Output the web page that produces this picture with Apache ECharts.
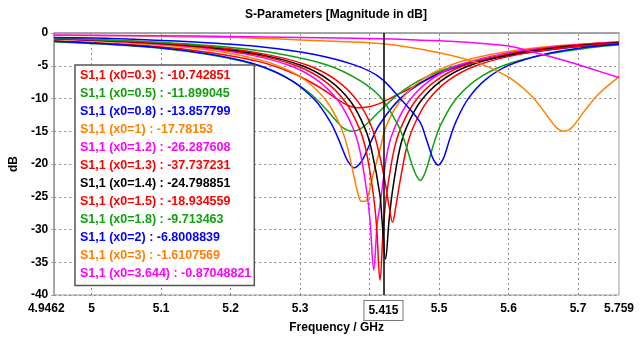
<!DOCTYPE html>
<html><head><meta charset="utf-8">
<script src="https://cdn.jsdelivr.net/npm/echarts@6/dist/echarts.min.js"></script>
<style>html,body{margin:0;padding:0;background:#fff}#c{width:641px;height:342px}</style>
</head><body><div id="c"></div>
<script>
const titleText = 'S-Parameters [Magnitude in dB]';
const xName = 'Frequency / GHz';
const yName = 'dB';
const x0Values = ['0.3','0.5','0.8','1','1.2','1.3','1.4','1.5','1.8','2','3','3.644'];
const markerValues = ['-10.742851','-11.899045','-13.857799','-17.78153','-26.287608','-37.737231','-24.798851','-18.934559','-9.713463','-6.8008839','-1.6107569','-0.87048821'];
const colors = ['#ff0000','#10a010','#0000ff','#ff8000','#ff00ff','#ff0000','#000000','#ff0000','#10a010','#0000ff','#ff8000','#ff00ff'];
const markerFreq = 5.415;
const xLabelValues = [4.9462,5,5.1,5.2,5.3,5.5,5.6,5.7,5.759];
const xGridValues = [5,5.1,5.2,5.3,5.4,5.5,5.6,5.7];

const s03 = [[4.9462,-1.2],[5.085,-2.0],[5.169,-2.96],[5.241,-4.37],[5.289,-6.11],[5.325,-8.09],[5.349,-9.78],[5.361,-10.6],[5.373,-11.21],[5.385,-11.4],[5.401,-11.21],[5.415,-10.74],[5.433,-9.78],[5.465,-8.09],[5.5,-6.11],[5.55,-4.37],[5.62,-2.96],[5.685,-2.0],[5.759,-1.55]];
const s05 = [[4.9462,-1.33],[5.075,-2.11],[5.159,-3.15],[5.231,-4.71],[5.279,-6.74],[5.315,-9.28],[5.339,-11.81],[5.351,-13.28],[5.363,-14.56],[5.375,-15.0],[5.388,-14.56],[5.402,-13.28],[5.415,-11.9],[5.442,-9.28],[5.481,-6.74],[5.535,-4.71],[5.615,-3.15],[5.695,-2.11],[5.759,-1.6]];
const s08 = [[4.9462,-1.27],[5.091,-2.17],[5.171,-3.26],[5.24,-4.92],[5.286,-7.14],[5.3205,-10.13],[5.3435,-13.57],[5.355,-16.12],[5.3665,-19.13],[5.3723,-20.13],[5.378,-20.6],[5.3845,-20.13],[5.391,-19.13],[5.404,-16.12],[5.415,-13.86],[5.443,-10.13],[5.482,-7.14],[5.534,-4.92],[5.612,-3.26],[5.69,-2.17],[5.759,-1.6]];
const s1 = [[4.9462,-0.95],[5.038,-1.4],[5.138,-2.2],[5.208,-3.29],[5.268,-4.98],[5.308,-7.25],[5.338,-10.39],[5.358,-14.2],[5.368,-17.35],[5.378,-22.1],[5.383,-24.4],[5.388,-25.7],[5.394,-25.7],[5.399,-24.4],[5.404,-22.1],[5.415,-17.78],[5.424,-14.2],[5.444,-10.39],[5.474,-7.25],[5.514,-4.98],[5.574,-3.29],[5.644,-2.2],[5.759,-1.33]];
const s12 = [[4.9462,-0.87],[5.056,-1.4],[5.156,-2.2],[5.226,-3.3],[5.286,-5.0],[5.326,-7.3],[5.356,-10.49],[5.376,-14.47],[5.386,-17.93],[5.396,-24.2],[5.401,-29.1],[5.406,-36.2],[5.411,-29.1],[5.415,-26.29],[5.426,-17.93],[5.436,-14.47],[5.456,-10.49],[5.486,-7.3],[5.526,-5.0],[5.586,-3.3],[5.656,-2.2],[5.759,-1.39]];
const s13 = [[4.9462,-0.85],[5.065,-1.4],[5.165,-2.2],[5.235,-3.3],[5.295,-5.0],[5.335,-7.3],[5.365,-10.49],[5.385,-14.48],[5.395,-17.96],[5.405,-24.31],[5.41,-29.36],[5.415,-37.74],[5.42,-29.36],[5.425,-24.31],[5.435,-17.96],[5.445,-14.48],[5.465,-10.49],[5.495,-7.3],[5.535,-5.0],[5.595,-3.3],[5.665,-2.2],[5.759,-1.43]];
const s14 = [[4.9462,-0.83],[5.073,-1.4],[5.173,-2.2],[5.243,-3.3],[5.303,-5.0],[5.343,-7.3],[5.373,-10.49],[5.393,-14.45],[5.403,-17.9],[5.415,-24.8],[5.418,-28.7],[5.423,-34.5],[5.428,-28.7],[5.433,-24.1],[5.443,-17.9],[5.453,-14.45],[5.473,-10.49],[5.503,-7.3],[5.543,-5.0],[5.603,-3.3],[5.673,-2.2],[5.759,-1.48]];
const s15 = [[4.9462,-0.8],[5.083,-1.4],[5.183,-2.2],[5.253,-3.3],[5.313,-5.0],[5.353,-7.27],[5.383,-10.44],[5.403,-14.35],[5.415,-18.93],[5.423,-23.15],[5.428,-26.4],[5.433,-28.9],[5.438,-26.4],[5.443,-23.15],[5.453,-17.67],[5.463,-14.35],[5.483,-10.44],[5.513,-7.27],[5.553,-4.99],[5.613,-3.3],[5.683,-2.2],[5.759,-1.55]];
const s18 = [[4.9462,-0.82],[5.088,-1.39],[5.198,-2.19],[5.275,-3.28],[5.341,-4.95],[5.385,-7.19],[5.415,-9.71],[5.44,-13.88],[5.451,-16.7],[5.462,-20.39],[5.4675,-21.8],[5.473,-22.5],[5.478,-21.8],[5.483,-20.39],[5.493,-16.7],[5.503,-13.88],[5.523,-10.26],[5.553,-7.19],[5.593,-4.95],[5.653,-3.28],[5.723,-2.19],[5.759,-1.8]];
const s2 = [[4.9462,-0.7],[5.029,-0.84],[5.149,-1.39],[5.249,-2.17],[5.319,-3.25],[5.379,-4.91],[5.415,-6.8],[5.445,-10.1],[5.472,-13.5],[5.481,-15.98],[5.49,-18.84],[5.4945,-19.77],[5.499,-20.2],[5.503,-19.77],[5.5075,-18.84],[5.516,-15.98],[5.5245,-13.5],[5.5415,-10.1],[5.567,-7.12],[5.601,-4.91],[5.652,-3.25],[5.7115,-2.17],[5.759,-1.7]];
const s3 = [[4.9462,-0.35],[5.1,-0.5],[5.21,-0.7],[5.33,-1.2],[5.415,-1.61],[5.5,-3.0],[5.56,-4.71],[5.6,-6.74],[5.63,-9.28],[5.65,-11.81],[5.66,-13.28],[5.67,-14.56],[5.675,-14.87],[5.68,-15.0],[5.685,-14.87],[5.69,-14.56],[5.7,-13.28],[5.71,-11.81],[5.73,-9.28],[5.759,-6.7]];
const s3644 = [[4.9462,-0.3],[5.1,-0.42],[5.2,-0.52],[5.3,-0.68],[5.415,-0.87],[5.5,-1.2],[5.55,-1.5],[5.6,-2.0],[5.63,-2.75],[5.66,-3.6],[5.69,-4.5],[5.72,-5.5],[5.759,-6.8]];

const seriesData = [s03,s05,s08,s1,s12,s13,s14,s15,s18,s2,s3,s3644];
const names = x0Values.map((x,i)=>'S1,1 (x0=' + x + ') : ' + markerValues[i]);
const FONT = 'Liberation Sans';

const series = seriesData.map((d,i)=>({
  name: names[i], type:'line', data:d, showSymbol:false, smooth:0.35,
  lineStyle:{color:colors[i], width:1.5}, itemStyle:{color:colors[i]}, animation:false, z:2
}));
series[series.length-1].markLine = {
  silent:true, symbol:'none', animation:false, z:5,
  lineStyle:{color:'#000', width:1.5, type:'solid'},
  label:{show:true, position:'start', formatter:String(markerFreq), fontFamily:FONT, fontWeight:'bold', fontSize:12,
    color:'#000', backgroundColor:'#fff', borderColor:'#777', borderWidth:1, padding:[4,4,3,4], distance:6},
  data:[{xAxis:markerFreq}]
};

const chart = echarts.init(document.getElementById('c'), null, {renderer:'canvas'});
chart.setOption({
  animation:false,
  backgroundColor:'#fff',
  title:{text:titleText, left:331, top:4, textAlign:'center',
    textStyle:{fontFamily:FONT, fontWeight:'bold', fontSize:12, color:'#000'}},
  grid:{left:50, right:22, top:33, bottom:47, show:true, borderColor:'#999', borderWidth:1, backgroundColor:'transparent'},
  legend:{orient:'vertical', left:75, top:65, icon:'none', itemWidth:0, itemHeight:14, itemGap:4.5,
    padding:[4,3,5,0], backgroundColor:'#fff', borderColor:'#555', borderWidth:1.5, selectedMode:false, z:10,
    textStyle:{fontFamily:FONT, fontWeight:'bold', fontSize:12.5, width:170},
    data:names.map((n,i)=>({name:n, textStyle:{color:colors[i]}}))},
  xAxis:{type:'value', min:4.9462, max:5.759, name:xName, nameLocation:'middle', nameGap:27,
    nameTextStyle:{fontFamily:FONT, fontWeight:'bold', fontSize:12, color:'#000'},
    axisLine:{show:true, lineStyle:{color:'#999', width:1.5}},
    axisTick:{show:true, customValues:xGridValues, length:3, lineStyle:{color:'#999'}},
    axisLabel:{customValues:xLabelValues, fontFamily:FONT, fontWeight:'bold', fontSize:12, color:'#000', margin:8,
      formatter:v=>(v===xLabelValues[0] ? '{first|'+v+'}' : String(v)),
      rich:{first:{fontFamily:FONT, fontWeight:'bold', fontSize:12, color:'#000', padding:[0,16,0,0]}}},
    splitLine:{show:true, lineStyle:{color:'#888', type:[2,3], width:1}}},
  yAxis:{type:'value', min:-40, max:0, interval:5, name:yName, nameLocation:'middle', nameGap:34,
    nameTextStyle:{fontFamily:FONT, fontWeight:'bold', fontSize:12, color:'#000'},
    axisLine:{show:true, lineStyle:{color:'#999', width:1.5}},
    axisTick:{show:true, length:3, lineStyle:{color:'#999'}},
    axisLabel:{fontFamily:FONT, fontWeight:'bold', fontSize:12, color:'#000', margin:6},
    splitLine:{show:true, lineStyle:{color:'#888', type:[2,3], width:1}}},
  series:series
});
</script></body></html>
